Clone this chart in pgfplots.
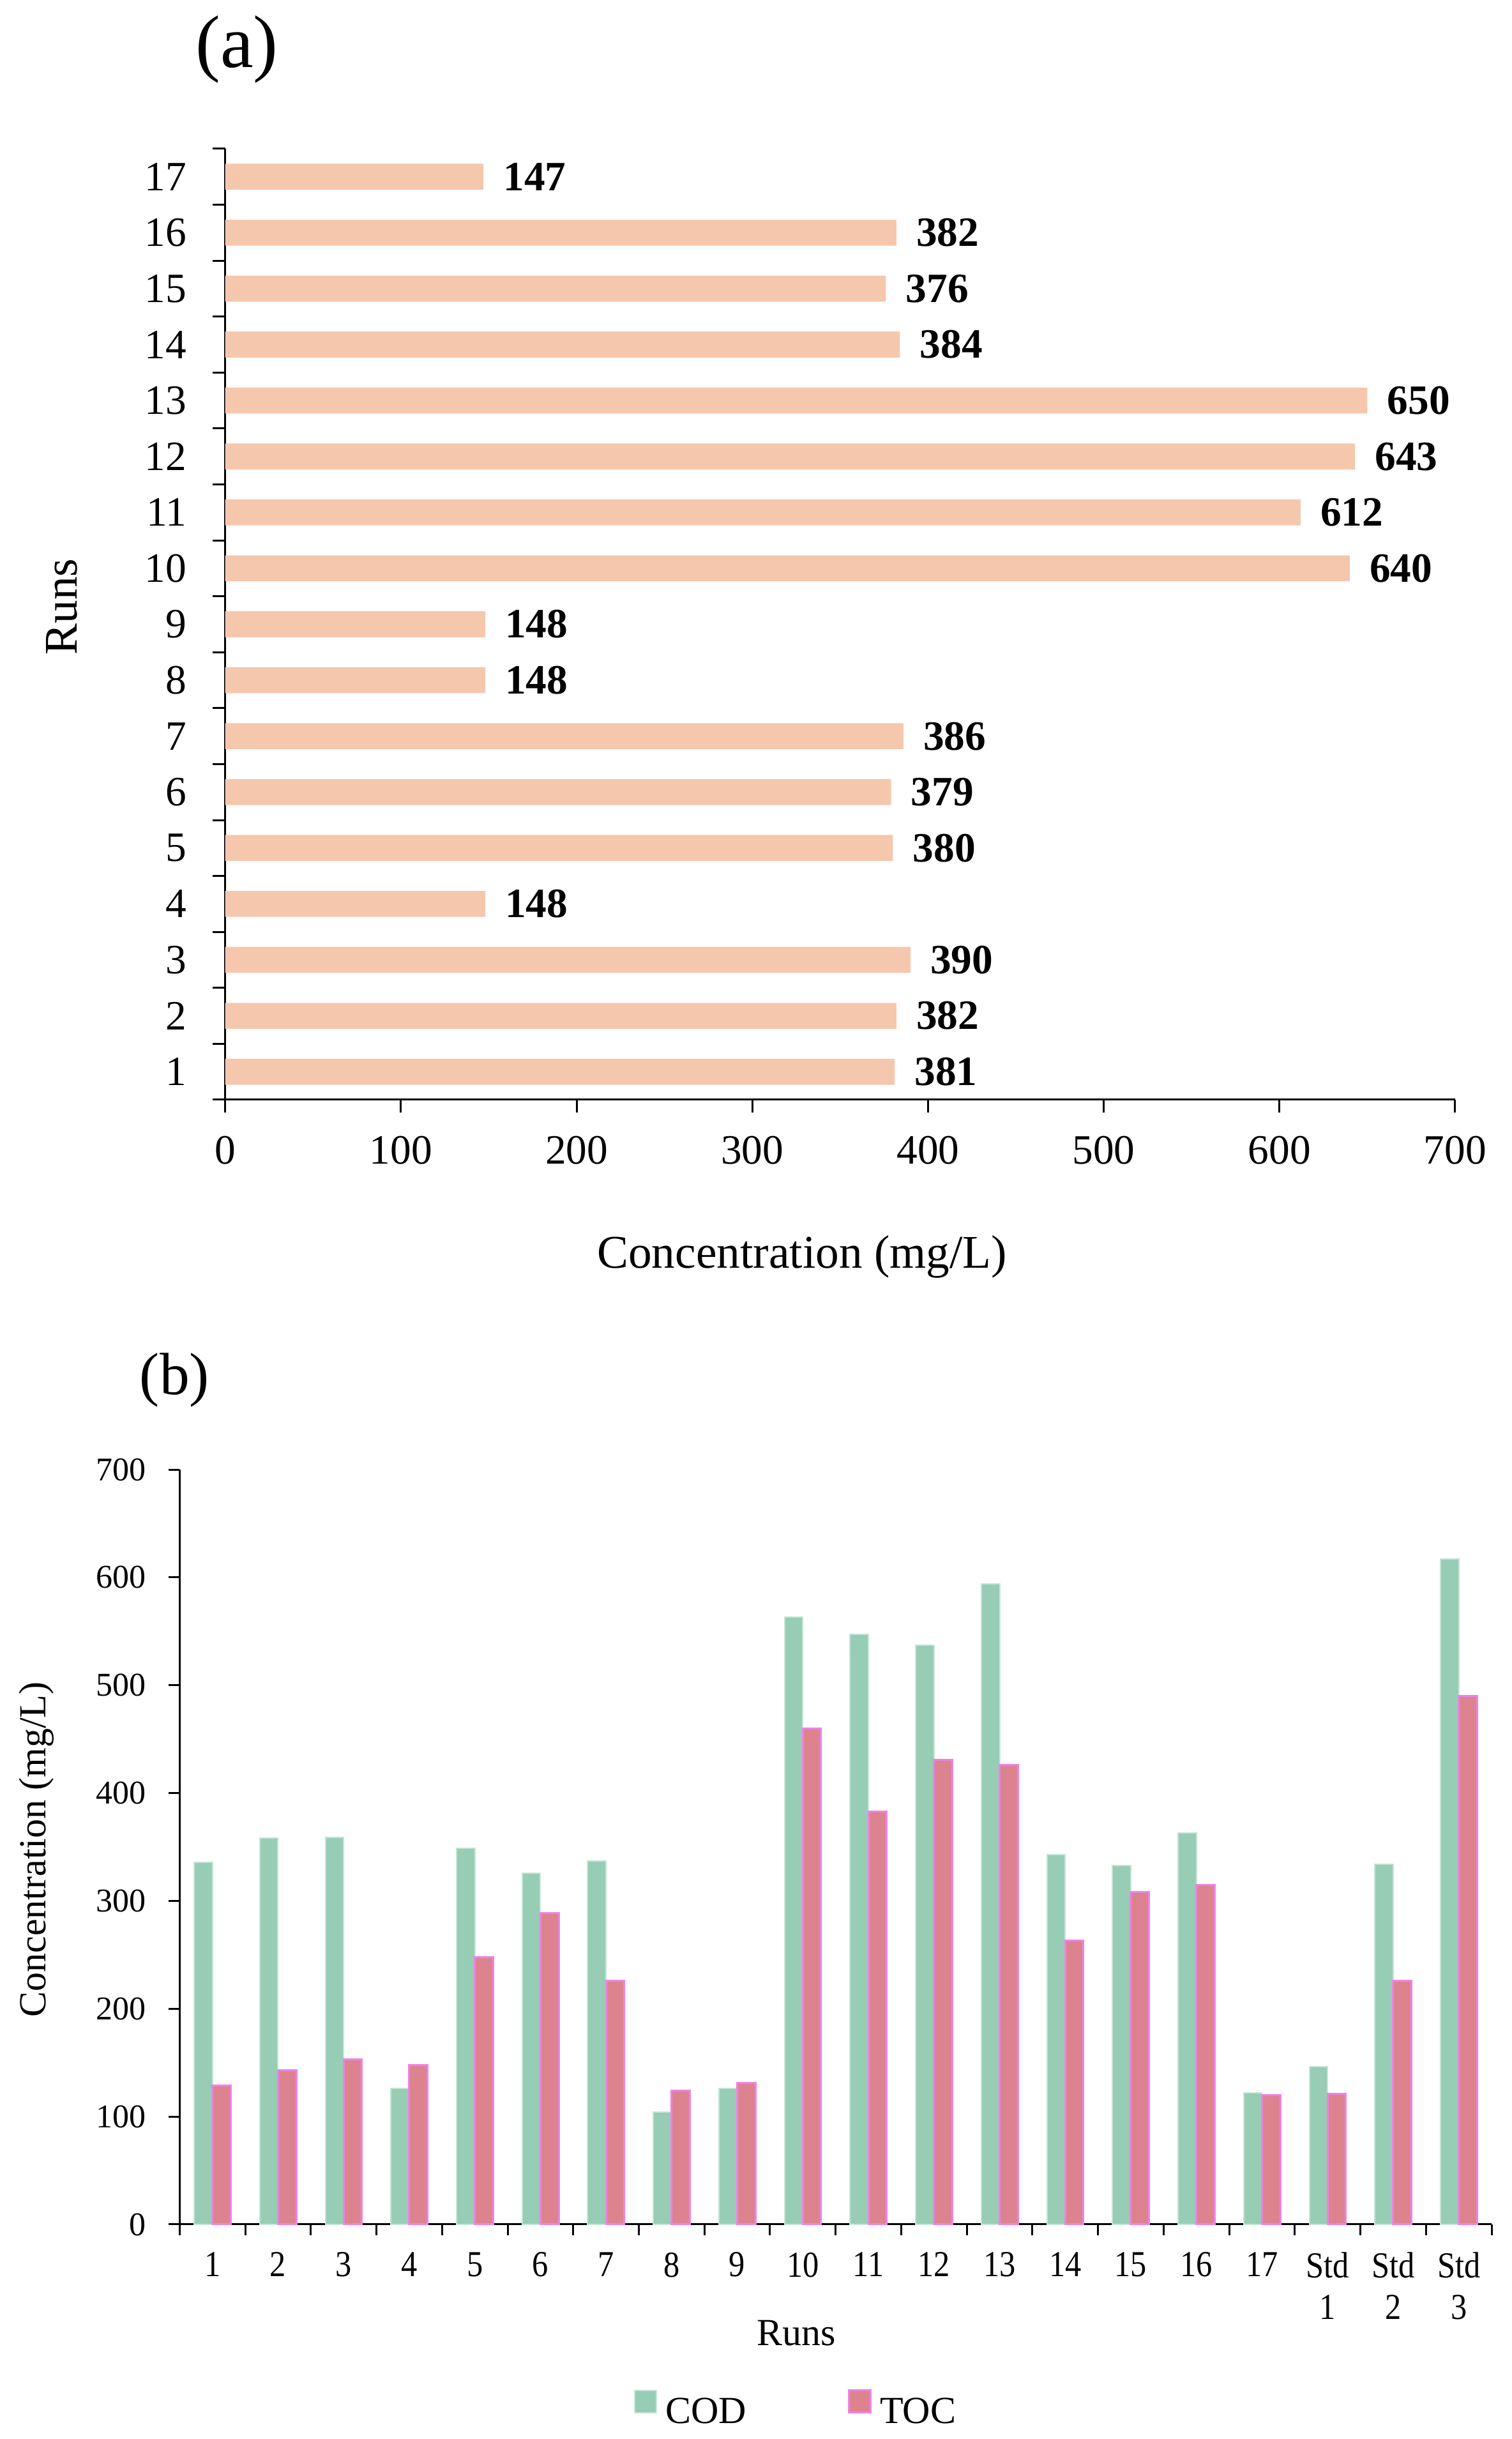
\documentclass[border=0pt]{standalone}
\usepackage{fontspec}
\setmainfont{Liberation Serif}
\newfontfamily\narrowserif[FakeStretch=0.88]{Liberation Serif}
\usepackage{pgfplots}
\pgfplotsset{compat=1.18}

\definecolor{peach}{HTML}{F5C7AD}
\definecolor{codgreen}{HTML}{97CDB5}
\definecolor{codedge}{HTML}{C4E6D7}
\definecolor{tocpink}{HTML}{DC838F}
\definecolor{tocedge}{HTML}{EE82E6}

\pgfplotsset{
  sqlegend/.style={
    legend image code/.code={%
      \draw[##1] (0pt,0.3pt) rectangle (5.1pt,5.6pt);
      \path (7.1pt,0pt);}},
}

% (a) concentration per run
\pgfplotstableread{
run val
1 381
2 382
3 390
4 148
5 380
6 379
7 386
8 148
9 148
10 640
11 612
12 643
13 650
14 384
15 376
16 382
17 147
}\runsA

% (b) COD and TOC per run, 18-20 = Std 1-3
\pgfplotstableread{
run cod toc
1 336 129
2 358 143
3 359 153
4 126 148
5 349 248
6 326 289
7 337 226
8 104 124
9 126 131
10 563 460
11 547 383
12 537 431
13 594 426
14 343 263
15 333 308
16 363 315
17 122 120
18 146 121
19 334 226
20 617 490
}\runsB

\begin{document}
\begin{tikzpicture}[x=1pt,y=1pt]
\path[use as bounding box] (0,0) rectangle (355.2,572.85);

% ---------- (a) ----------
\begin{axis}[
    at={(52.9pt,314.55pt)}, anchor=south west,
    scale only axis, width=288.95pt, height=223.35pt,
    xbar, bar width=6.1pt,
    xmin=0, xmax=700, ymin=0.5, ymax=17.5,
    enlargelimits=false, clip=false,
    axis lines*=left,
    axis line style={line width=0.45pt},
    tick align=outside,
    major tick length=3pt, minor tick length=3pt,
    every tick/.style={black, line width=0.45pt},
    xtick={0,100,...,700},
    ytick={1,...,17},
    minor ytick={0.5,1.5,...,17.5},
    major y tick style={draw=none},
    /pgf/number format/assume math mode=true,
    ticklabel style={font=\fontsize{9.8}{11}\selectfont, inner sep=0pt},
    yticklabel style={anchor=east, xshift=-5.9pt},
    xticklabel style={anchor=north, yshift=-5.3pt},
    nodes near coords,
    nodes near coords style={anchor=west, inner sep=0pt, xshift=4.5pt,
        font=\bfseries\fontsize{9.8}{11}\selectfont},
  ]
  \addplot[fill=peach, draw=none] table[x=val, y=run] {\runsA};
\end{axis}

\node[font=\fontsize{17.5}{20}\selectfont] at (55.65,561.3) {(a)};
\node[rotate=90, font=\fontsize{11}{13}\selectfont] at (14.55,430.35) {Runs};
\node[font=\fontsize{11}{13}\selectfont] at (188.4,277.6) {Concentration (mg/L)};

% ---------- (b) ----------
\begin{axis}[
    at={(42.2pt,50.4pt)}, anchor=south west,
    scale only axis, width=308.2pt, height=177.3pt,
    ybar=0pt, bar width=4.3pt,
    xmin=0.5, xmax=20.5, ymin=0, ymax=700,
    enlargelimits=false, clip=false,
    axis lines*=left,
    axis line style={line width=0.45pt},
    tick align=outside,
    major tick length=2.6pt, minor tick length=2.6pt,
    every tick/.style={black, line width=0.45pt},
    ytick={0,100,...,700},
    xtick={1,...,20},
    xticklabels={1,2,3,4,5,6,7,8,9,10,11,12,13,14,15,16,17,{Std\\1},{Std\\2},{Std\\3}},
    minor xtick={0.5,1.5,...,20.5},
    major x tick style={draw=none},
    /pgf/number format/assume math mode=true,
    yticklabel style={font=\fontsize{7.8}{9}\selectfont, inner sep=0pt,
        anchor=east, xshift=-5.2pt},
    xticklabel style={font=\narrowserif\fontsize{8.6}{9.75}\selectfont,
        inner sep=0pt, anchor=north, align=center, yshift=-3.8pt},
    legend columns=2,
    legend cell align=left,
    legend style={at={(0.469,-0.2453)}, anchor=center, draw=none, fill=none,
        inner sep=0pt, font=\fontsize{9}{11}\selectfont,
        nodes={inner sep=0pt},
        /tikz/every even column/.append style={column sep=23.85pt}},
  ]
  \addplot[fill=codgreen, draw=codedge, line width=0.3pt, sqlegend]
    table[x=run, y=cod] {\runsB};
  \addplot[fill=tocpink, draw=tocedge, line width=0.45pt, sqlegend]
    table[x=run, y=toc] {\runsB};
  \legend{COD,TOC}
\end{axis}

\node[font=\fontsize{14}{16}\selectfont] at (41.0,248.7) {(b)};
\node[rotate=90, font=\fontsize{9}{11}\selectfont] at (8.55,138.45) {Concentration (mg/L)};
\node[font=\fontsize{9}{11}\selectfont] at (187.05,24.9) {Runs};
\end{tikzpicture}
\end{document}
